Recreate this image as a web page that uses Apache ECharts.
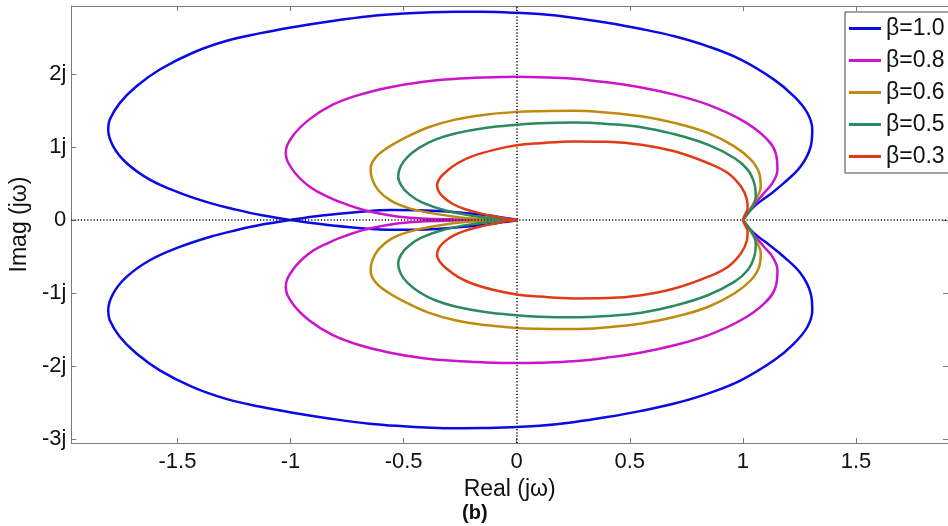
<!DOCTYPE html>
<html>
<head>
<meta charset="utf-8">
<script src="https://cdn.jsdelivr.net/npm/echarts@6/dist/echarts.min.js"></script>
<style>html,body{margin:0;padding:0;background:#fff}#c{width:948px;height:526px}</style>
</head>
<body>
<div id="c"></div>
<script>
// Tick labels
const xTicks = [-1.5, -1, -0.5, 0, 0.5, 1, 1.5];
const yTicks = [-3, -2, -1, 0, 1, 2];
const seriesNames = ['β=1.0', 'β=0.8', 'β=0.6', 'β=0.5', 'β=0.3'];

// Half traces [Re, Im], from (1,0) round to the origin.
// The other half of each closed curve is its complex conjugate.
const beta10 = [[1.0,0],[1.05,0.186],[1.109,0.323],[1.182,0.507],[1.256,0.734],[1.30,1.008],[1.307,1.237],[1.285,1.466],[1.226,1.693],[1.138,1.922],[0.991,2.196],[0.845,2.378],[0.697,2.515],[0.551,2.615],[0.40,2.70],[0.25,2.77],[0.10,2.82],[0,2.836],[-0.15,2.85],[-0.272,2.852],[-0.40,2.842],[-0.50,2.826],[-0.65,2.79],[-0.815,2.725],[-0.991,2.64],[-1.138,2.555],[-1.285,2.45],[-1.432,2.29],[-1.578,2.06],[-1.681,1.83],[-1.755,1.60],[-1.799,1.374],[-1.806,1.237],[-1.784,1.008],[-1.725,0.78],[-1.622,0.552],[-1.49,0.37],[-1.358,0.233],[-1.241,0.141],[-1.12,0.06],[-1.0,0],[-0.86,-0.06],[-0.70,-0.11],[-0.55,-0.135],[-0.40,-0.13],[-0.27,-0.105],[-0.15,-0.07],[-0.06,-0.03],[0,0]];
const beta08 = [[1.0,0],[1.05,0.21],[1.094,0.37],[1.131,0.507],[1.153,0.689],[1.145,0.918],[1.094,1.145],[0.991,1.374],[0.845,1.58],[0.697,1.716],[0.551,1.815],[0.40,1.885],[0.25,1.935],[0.10,1.955],[0,1.96],[-0.15,1.95],[-0.28,1.93],[-0.42,1.89],[-0.565,1.815],[-0.70,1.71],[-0.815,1.575],[-0.918,1.374],[-0.991,1.145],[-1.021,0.918],[-0.991,0.689],[-0.918,0.46],[-0.83,0.31],[-0.75,0.21],[-0.68,0.14],[-0.60,0.085],[-0.52,0.045],[-0.42,0.02],[-0.28,0.008],[-0.12,0.002],[0,0]];
const beta06 = [[1.0,0],[1.03,0.14],[1.057,0.278],[1.079,0.46],[1.072,0.644],[1.035,0.826],[0.962,1.008],[0.845,1.192],[0.697,1.329],[0.551,1.419],[0.40,1.47],[0.25,1.495],[0.10,1.49],[0,1.48],[-0.14,1.44],[-0.272,1.374],[-0.39,1.27],[-0.49,1.13],[-0.575,0.98],[-0.625,0.85],[-0.646,0.70],[-0.638,0.55],[-0.61,0.40],[-0.555,0.26],[-0.48,0.165],[-0.389,0.10],[-0.25,0.035],[-0.12,0.008],[0,0]];
const beta05 = [[1.0,0],[1.043,0.186],[1.057,0.323],[1.05,0.507],[1.021,0.689],[0.962,0.849],[0.845,1.031],[0.697,1.175],[0.551,1.27],[0.40,1.315],[0.25,1.333],[0.10,1.325],[0,1.305],[-0.14,1.26],[-0.272,1.185],[-0.36,1.10],[-0.43,0.99],[-0.48,0.87],[-0.512,0.74],[-0.524,0.60],[-0.51,0.47],[-0.475,0.35],[-0.419,0.24],[-0.31,0.125],[-0.18,0.05],[-0.08,0.015],[0,0]];
const beta03 = [[1.0,0],[1.006,0.05],[1.021,0.164],[1.018,0.278],[0.991,0.46],[0.933,0.644],[0.845,0.78],[0.697,0.94],[0.551,1.031],[0.40,1.07],[0.25,1.075],[0.10,1.05],[0,1.022],[-0.10,0.96],[-0.198,0.871],[-0.26,0.78],[-0.305,0.68],[-0.338,0.58],[-0.352,0.48],[-0.345,0.39],[-0.32,0.30],[-0.28,0.215],[-0.23,0.15],[-0.16,0.09],[-0.09,0.045],[-0.035,0.013],[0,0]];
const halves = [beta10, beta08, beta06, beta05, beta03];
const colors = ['#0a0ae6', '#cc14cc', '#c08a0e', '#2b8a5e', '#e03a16'];

function closeLoop(half) {
  const back = half.slice(0, -1).reverse().map(p => [p[0], -p[1]]);
  return half.concat(back);
}

const FONT = 'Liberation Sans, Arial, sans-serif';
const AX = '#7a7a7a';
const xMin = -1.969, xMax = 1.907, yMin = -3.055, yMax = 2.93;

const chart = echarts.init(document.getElementById('c'), null, {renderer: 'canvas'});
const series = halves.map((h, i) => ({
  name: seriesNames[i], type: 'line', data: closeLoop(h), showSymbol: false, symbol: 'none',
  smooth: 0.4, lineStyle: {color: colors[i], width: 2.5}, itemStyle: {color: colors[i]}, z: 2 + i
}));
series.push({
  type: 'line', data: [], silent: true, z: 10,
  markLine: {
    silent: true, symbol: ['none', 'none'], label: {show: false},
    lineStyle: {color: '#222', width: 2, type: [1, 2.2]},
    emphasis: {disabled: true},
    data: [{xAxis: 0}, {yAxis: 0}]
  }
});

chart.setOption({
  animation: false,
  backgroundColor: '#fff',
  grid: {left: 68, right: 0, top: 6, bottom: 83, containLabel: false},
  legend: {
    data: seriesNames, orient: 'vertical', left: 845, top: 12,
    padding: [5, 24, 5, 4], itemGap: 9, itemWidth: 32, itemHeight: 3, icon: 'rect',
    borderColor: '#444', borderWidth: 1, backgroundColor: '#fff',
    textStyle: {fontFamily: FONT, fontSize: 23, color: '#111', lineHeight: 22}
  },
  xAxis: [{
    type: 'value', position: 'bottom', min: xMin, max: xMax,
    axisLine: {onZero: false, lineStyle: {color: AX, width: 1}},
    axisTick: {inside: true, length: 5, customValues: xTicks, lineStyle: {color: AX}},
    axisLabel: {customValues: xTicks, formatter: v => String(v), fontFamily: FONT, fontSize: 22, color: '#111', margin: 8},
    splitLine: {show: false},
    name: 'Real (jω)', nameLocation: 'middle', nameGap: 30,
    nameTextStyle: {fontFamily: FONT, fontSize: 23, color: '#111'}
  }, {
    type: 'value', position: 'top', min: xMin, max: xMax,
    axisLine: {onZero: false, lineStyle: {color: AX, width: 1}},
    axisTick: {inside: true, length: 5, customValues: xTicks, lineStyle: {color: AX}},
    axisLabel: {show: false}, splitLine: {show: false}
  }],
  yAxis: [{
    type: 'value', position: 'left', min: yMin, max: yMax,
    axisLine: {onZero: false, lineStyle: {color: AX, width: 1}},
    axisTick: {inside: true, length: 5, customValues: yTicks, lineStyle: {color: AX}},
    axisLabel: {customValues: yTicks, formatter: v => (v === 0 ? '0' : v + 'j'), fontFamily: FONT, fontSize: 22, color: '#111', margin: 5},
    splitLine: {show: false},
    name: 'Imag (jω)', nameLocation: 'middle', nameGap: 40, nameRotate: 90,
    nameTextStyle: {fontFamily: FONT, fontSize: 23, color: '#111'}
  }, {
    type: 'value', position: 'right', min: yMin, max: yMax,
    axisLine: {onZero: false, lineStyle: {color: AX, width: 1}},
    axisTick: {inside: true, length: 5, customValues: yTicks, lineStyle: {color: AX}},
    axisLabel: {show: false}, splitLine: {show: false}
  }],
  graphic: [{
    type: 'text', left: 462, top: 503,
    style: {text: '(b)', fontFamily: FONT, fontSize: 20, fontWeight: 'bold', fill: '#111'}
  }],
  series: series
});
</script>
</body>
</html>
